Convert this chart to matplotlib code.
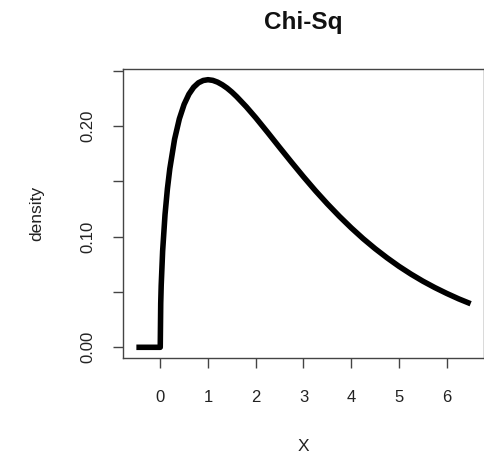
import matplotlib
matplotlib.use("Agg")
import matplotlib.pyplot as plt
import numpy as np

# values (chi-square density curve)
x_vals = [-0.5, 0.0, 0.0, 0.01, 0.02, 0.05, 0.1, 0.15, 0.2, 0.3, 0.4, 0.5, 0.6, 0.7, 0.8, 0.9,
          1.0, 1.1, 1.2, 1.3, 1.4, 1.5, 1.6, 1.8, 2.0, 2.25, 2.5, 2.75, 3.0, 3.25, 3.5, 3.75, 4.0,
          4.25, 4.5, 4.75, 5.0, 5.25, 5.5, 5.75, 6.0, 6.25, 6.5]
density = [0.0, 0.0, 0.0, 0.0397, 0.0559, 0.0870, 0.1200, 0.1433, 0.1614, 0.1881, 0.2066,
           0.2197, 0.2289, 0.2352, 0.2392, 0.2413, 0.2420, 0.2414, 0.2398, 0.2374, 0.2344,
           0.2308, 0.2267, 0.2176, 0.2076, 0.1943, 0.1807, 0.1673, 0.1542, 0.1416, 0.1297,
           0.1185, 0.1080, 0.0982, 0.0892, 0.0809, 0.0732, 0.0662, 0.0598, 0.0540, 0.0487,
           0.0438, 0.0394]
x_ticks = [0, 1, 2, 3, 4, 5, 6]
y_ticks = [0.00, 0.05, 0.10, 0.15, 0.20, 0.25]
y_labels = ["0.00", "", "0.10", "", "0.20", ""]

plt.rcParams['font.family'] = ['Liberation Sans', 'DejaVu Sans']
W, H = 485, 461
fig = plt.figure(figsize=(W / 100, H / 100), dpi=100)
ax = fig.add_axes([123 / W, 1 - 358 / H, (484 - 123) / W, (358 - 69) / H])

ax.plot(x_vals, density, color='black', lw=4.0, solid_capstyle='butt', solid_joinstyle='round')

xmin, xmax = min(x_vals), max(x_vals)
pad = 0.04 * (xmax - xmin)
ax.set_xlim(xmin - pad, xmax + pad)
ymin, ymax = min(density), max(density)
pady = 0.04 * (ymax - ymin)
ax.set_ylim(ymin - pady, ymax + pady)

ax.set_xticks(x_ticks)
ax.set_xticklabels([str(t) for t in x_ticks])
ax.set_yticks(y_ticks)
ax.set_yticklabels(y_labels, rotation=90, va='center')

for s in ax.spines.values():
    s.set_color('#444444')
    s.set_linewidth(1.0)
ax.tick_params(axis='both', direction='out', length=7, width=1.0, color='#444444',
               labelsize=12, labelcolor='#222222')
ax.tick_params(axis='x', pad=16)
ax.tick_params(axis='y', pad=13)

fig.text(303.5 / W, 1 - 23 / H, "Chi-Sq", ha='center', va='center',
         fontsize=17.5, fontweight='bold', color='#111111')
fig.text(303.5 / W, 1 - 446 / H, "X", ha='center', va='center',
         fontsize=12.5, color='#222222')
fig.text(37 / W, 1 - 213 / H, "density", ha='center', va='center', rotation=90,
         fontsize=12.5, color='#222222')

fig.savefig("out.png", dpi=100, facecolor='white')
